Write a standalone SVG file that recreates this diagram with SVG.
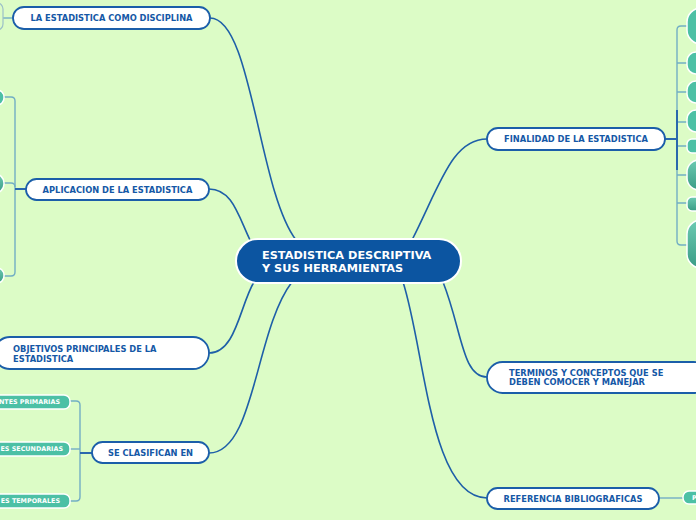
<svg xmlns="http://www.w3.org/2000/svg" width="696" height="520" viewBox="0 0 696 520">
<defs>
<style>
.bg{fill:#dcfcc6}
.main{fill:#ffffff;stroke:#1b5ea9;stroke-width:1.8}
.mt{font-family:"DejaVu Sans",Verdana,sans-serif;font-weight:bold;font-size:8.3px;fill:#1558a6}
.ct{font-family:"DejaVu Sans",Verdana,sans-serif;font-weight:bold;font-size:11.3px;fill:#ffffff}
.tt{font-family:"DejaVu Sans",Verdana,sans-serif;font-weight:bold;font-size:6.4px;fill:#ffffff}
.teal{fill:#4cc0a5;stroke:#ffffff;stroke-width:1.5}
.tealg{fill:url(#tg);stroke:#ffffff;stroke-width:1.5}
.conn{fill:none;stroke:#1e5fa8;stroke-width:1.6}
.br{fill:none;stroke:#72aec4;stroke-width:1.4}
.stem{fill:none;stroke:#2a68ad;stroke-width:2}
</style>
<linearGradient id="tg" x1="0" y1="0" x2="0" y2="1">
<stop offset="0" stop-color="#6ccab2"/>
<stop offset="1" stop-color="#3a9c86"/>
</linearGradient>
</defs>
<rect class="bg" x="0" y="0" width="696" height="520"/>

<g id="connectors">
<path class="conn" d="M210,18 C252,18 258,190 296,240"/>
<path class="conn" d="M209,189 C232,189 238,215 250,240"/>
<path class="conn" d="M209,353 C236,353 240,305 254,282"/>
<path class="conn" d="M209,453 C255,453 255,330 292,282"/>
<path class="conn" d="M487,139 C452,139 440,185 412,240"/>
<path class="conn" d="M487,377 C462,377 462,330 443,282"/>
<path class="conn" d="M403,282 C425,350 430,498 487,498"/>
<path class="br" d="M3,18 H13"/>
<path class="br" d="M3,97 H11 Q15,97 15,101 V272 Q15,276 11,276 H3"/>
<path class="br" d="M3,183 H11 Q15,183 15,187"/>
<path class="stem" d="M26,189 H15"/>
<path class="br" d="M70,401 H76 Q80,401 80,405 V497 Q80,501 76,501 H70"/>
<path class="br" d="M70,449 H80"/>
<path class="stem" d="M92,453 H80"/>
<path class="br" d="M687,26 H681 Q677,26 677,30 V241 Q677,245 681,245 H687"/>
<path class="br" d="M677,63 H687 M677,92 H687 M677,122 H687 M677,146 H687 M677,175 H687 M677,203 H687"/>
<path class="stem" d="M665,139 H677 M677,110 V170"/>
<path class="br" d="M659,498 H683"/>
</g>

<g id="central">
<rect x="236" y="239" width="225" height="44" rx="22" fill="#0c55a1" stroke="#ffffff" stroke-width="2"/>
<text class="ct" x="262" y="259">ESTADISTICA DESCRIPTIVA</text>
<text class="ct" x="262" y="272">Y SUS HERRAMIENTAS</text>
</g>

<g id="n-disciplina">
<rect class="main" x="13" y="7" width="197" height="22" rx="11"/>
<text class="mt" x="111.5" y="21" text-anchor="middle">LA ESTADISTICA COMO DISCIPLINA</text>
</g>
<g id="n-disciplina-child">
<rect x="-20" y="3" width="23" height="27" rx="6" fill="none" stroke="#9cc0c8" stroke-width="1.2"/>
</g>

<g id="n-aplicacion">
<rect class="main" x="26" y="179" width="183" height="21" rx="10.5"/>
<text class="mt" x="117.5" y="192.5" text-anchor="middle">APLICACION DE LA ESTADISTICA</text>
</g>
<g id="n-aplicacion-c1"><rect class="teal" x="-30" y="90" width="34" height="15" rx="7"/></g>
<g id="n-aplicacion-c2"><rect class="tealg" x="-30" y="174" width="34" height="19" rx="9"/></g>
<g id="n-aplicacion-c3"><rect class="tealg" x="-30" y="268" width="34" height="15" rx="7"/></g>

<g id="n-objetivos">
<rect class="main" x="-6" y="337" width="215" height="32" rx="16"/>
<text class="mt" x="13" y="352">OBJETIVOS PRINCIPALES DE LA</text>
<text class="mt" x="13" y="362">ESTADISTICA</text>
</g>

<g id="n-clasifican">
<rect class="main" x="92" y="442" width="117" height="21" rx="10.5"/>
<text class="mt" x="150.5" y="455.5" text-anchor="middle">SE CLASIFICAN EN</text>
</g>
<g id="n-primarias">
<rect class="teal" x="-40" y="395" width="110" height="14" rx="6"/>
<text class="tt" x="60" y="404.3" text-anchor="end">NTES PRIMARIAS</text>
</g>
<g id="n-secundarias">
<rect class="teal" x="-40" y="442" width="110" height="14" rx="6"/>
<text class="tt" x="0.5" y="451.3">ES SECUNDARIAS</text>
</g>
<g id="n-temporales">
<rect class="teal" x="-40" y="494" width="110" height="14" rx="6"/>
<text class="tt" x="60" y="503.3" text-anchor="end">ES TEMPORALES</text>
</g>

<g id="n-finalidad">
<rect class="main" x="487" y="128" width="178" height="22" rx="11"/>
<text class="mt" x="576" y="142" text-anchor="middle">FINALIDAD DE LA ESTADISTICA</text>
</g>
<g id="n-fin-c1"><rect class="teal" x="687" y="8" width="40" height="36" rx="14"/></g>
<g id="n-fin-c2"><rect class="teal" x="687" y="52" width="40" height="22" rx="9"/></g>
<g id="n-fin-c3"><rect class="teal" x="687" y="81" width="40" height="22" rx="9"/></g>
<g id="n-fin-c4"><rect class="teal" x="687" y="110" width="40" height="22" rx="9"/></g>
<g id="n-fin-c5"><rect class="teal" x="687" y="139" width="40" height="14" rx="5"/></g>
<g id="n-fin-c6"><rect class="tealg" x="687" y="160" width="40" height="30" rx="12"/></g>
<g id="n-fin-c7"><rect class="tealg" x="687" y="197" width="40" height="14" rx="5"/></g>
<g id="n-fin-c8"><rect class="tealg" x="687" y="220" width="40" height="48" rx="14"/></g>

<g id="n-terminos">
<rect class="main" x="487" y="362" width="222" height="31" rx="15.5"/>
<text class="mt" x="509" y="376">TERMINOS Y CONCEPTOS QUE SE</text>
<text class="mt" x="509" y="385">DEBEN COMOCER Y MANEJAR</text>
</g>

<g id="n-referencia">
<rect class="main" x="487" y="488" width="172" height="21" rx="10.5"/>
<text class="mt" x="573" y="501.5" text-anchor="middle">REFERENCIA BIBLIOGRAFICAS</text>
</g>
<g id="n-ref-child">
<rect class="teal" x="683" y="491" width="40" height="13" rx="6"/>
<text class="tt" x="692" y="500">P</text>
</g>
</svg>
